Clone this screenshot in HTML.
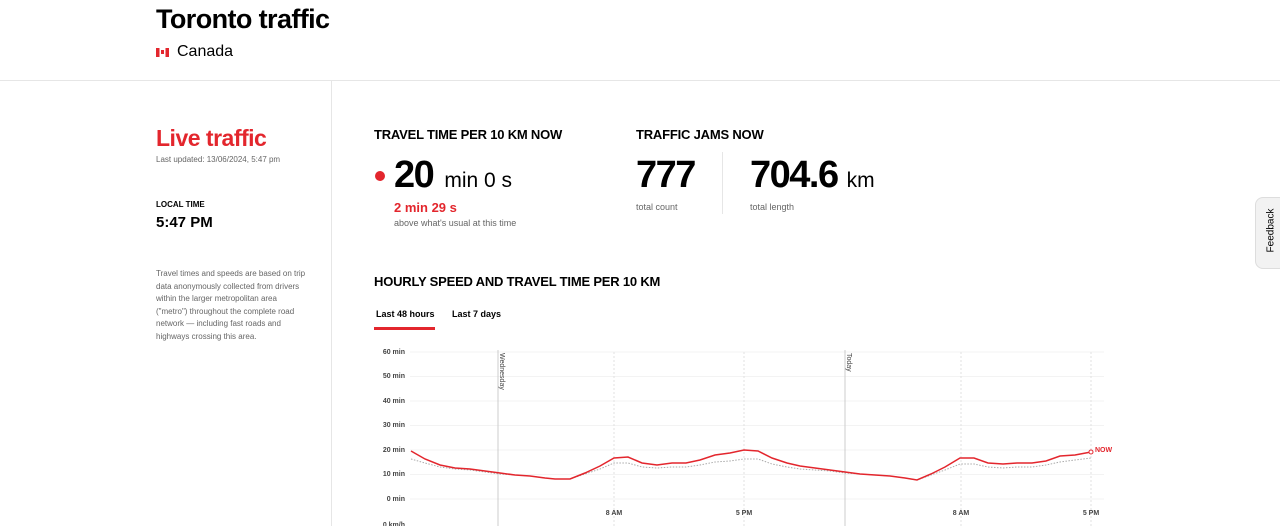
<!DOCTYPE html>
<html><head><meta charset="utf-8"><style>
body{margin:0;width:1280px;height:526px;overflow:hidden;background:#fff;font-family:"Liberation Sans",sans-serif;color:#000;position:relative}
.a{position:absolute;white-space:nowrap}
</style></head><body>
<div class="a" style="left:156px;top:4px;font-size:27px;font-weight:bold;letter-spacing:-0.6px">Toronto traffic</div>
<div class="a" style="left:156px;top:48px;width:13px;height:9px;background:linear-gradient(90deg,#e3262d 0 28%,#fff 28% 72%,#e3262d 72%)"></div>
<div class="a" style="left:161px;top:50px;width:3px;height:4px;background:#e3262d"></div>
<div class="a" style="left:177px;top:43px;font-size:16px">Canada</div>
<div class="a" style="left:0;top:80px;width:1280px;height:1px;background:#e6e6e6"></div>
<div class="a" style="left:331px;top:81px;width:1px;height:445px;background:#e6e6e6"></div>
<div class="a" style="left:156px;top:125px;font-size:23px;font-weight:bold;color:#e3262d;letter-spacing:-0.5px">Live traffic</div>
<div class="a" style="left:156px;top:155px;font-size:8px;color:#666">Last updated: 13/06/2024, 5:47 pm</div>
<div class="a" style="left:156px;top:200px;font-size:8px;font-weight:bold">LOCAL TIME</div>
<div class="a" style="left:156px;top:214px;font-size:15px;font-weight:bold">5:47 PM</div>
<div class="a" style="left:156px;top:268px;font-size:8px;color:#666;line-height:12.5px;white-space:normal;width:150px">Travel times and speeds are based on trip data anonymously collected from drivers within the larger metropolitan area ("metro") throughout the complete road network — including fast roads and highways crossing this area.</div>
<div class="a" style="left:374px;top:127px;font-size:13px;font-weight:bold;letter-spacing:-0.2px">TRAVEL TIME PER 10 KM NOW</div>
<div class="a" style="left:375px;top:171px;width:10px;height:10px;border-radius:50%;background:#e3262d"></div>
<div class="a" style="left:394px;top:154px;font-size:38px;font-weight:bold;letter-spacing:-1.5px">20 <span style="font-size:21px;font-weight:normal;letter-spacing:0;margin-left:2px">min 0 s</span></div>
<div class="a" style="left:394px;top:200px;font-size:13px;font-weight:bold;color:#e3262d">2 min 29 s</div>
<div class="a" style="left:394px;top:218px;font-size:9px;color:#666">above what's usual at this time</div>
<div class="a" style="left:636px;top:127px;font-size:13px;font-weight:bold;letter-spacing:-0.2px">TRAFFIC JAMS NOW</div>
<div class="a" style="left:636px;top:154px;font-size:38px;font-weight:bold;letter-spacing:-1.5px">777</div>
<div class="a" style="left:636px;top:202px;font-size:9px;color:#666">total count</div>
<div class="a" style="left:722px;top:152px;width:1px;height:62px;background:#e6e6e6"></div>
<div class="a" style="left:750px;top:154px;font-size:38px;font-weight:bold;letter-spacing:-1.5px">704.6 <span style="font-size:21px;font-weight:normal;letter-spacing:0">km</span></div>
<div class="a" style="left:750px;top:202px;font-size:9px;color:#666">total length</div>
<div class="a" style="left:1255px;top:197px;width:30px;height:70px;border-radius:8px;background:#f2f2f2;border:1px solid #ddd"></div>
<div class="a" style="left:1249px;top:225px;font-size:10px;transform:rotate(-90deg);transform-origin:center">Feedback</div>
<div class="a" style="left:374px;top:274px;font-size:13px;font-weight:bold;letter-spacing:-0.2px">HOURLY SPEED AND TRAVEL TIME PER 10 KM</div>
<div class="a" style="left:376px;top:309px;font-size:9px;font-weight:bold">Last 48 hours</div>
<div class="a" style="left:374px;top:327px;width:61px;height:3px;background:#e3262d"></div>
<div class="a" style="left:452px;top:309px;font-size:9px;font-weight:bold">Last 7 days</div>
<svg class="a" style="left:0;top:0" width="1280" height="526" font-family="Liberation Sans" font-size="7" font-weight="bold" fill="#444">
<g stroke="#f3f3f3"><line x1="410" x2="1104" y1="352" y2="352"/><line x1="410" x2="1104" y1="376.5" y2="376.5"/><line x1="410" x2="1104" y1="401" y2="401"/><line x1="410" x2="1104" y1="425.5" y2="425.5"/><line x1="410" x2="1104" y1="450" y2="450"/><line x1="410" x2="1104" y1="474.5" y2="474.5"/><line x1="410" x2="1104" y1="499" y2="499"/></g>
<g text-anchor="end"><text x="405" y="354">60 min</text><text x="405" y="378">50 min</text><text x="405" y="403">40 min</text><text x="405" y="427">30 min</text><text x="405" y="452">20 min</text><text x="405" y="476">10 min</text><text x="405" y="501">0 min</text><text x="405" y="527">0 km/h</text></g>
<g stroke="#e2e2e2" stroke-dasharray="2,2"><line x1="614" x2="614" y1="352" y2="526"/><line x1="744" x2="744" y1="352" y2="526"/><line x1="961" x2="961" y1="352" y2="526"/><line x1="1091" x2="1091" y1="352" y2="526"/></g>
<g stroke="#ccc"><line x1="498" x2="498" y1="350" y2="526"/><line x1="845" x2="845" y1="350" y2="526"/></g>
<text transform="translate(500,353) rotate(90)" font-weight="normal" font-size="7">Wednesday</text>
<text transform="translate(847,353) rotate(90)" font-weight="normal" font-size="7">Today</text>
<g text-anchor="middle"><text x="614" y="515">8 AM</text><text x="744" y="515">5 PM</text><text x="961" y="515">8 AM</text><text x="1091" y="515">5 PM</text></g>
<polyline fill="none" stroke="#aaa" stroke-dasharray="1.5,1.5" points="411,459 425,463 440,467 455,469 470,470 485,472 500,474 515,475 530,476 545,478 555,479 570,479 585,474 600,469 614,463 628,463 642,467 657,468 672,467 686,467 700,465 715,462 730,461 744,459 758,459 772,464 787,467 800,469 815,470 830,471 845,473 860,474 875,475 890,476 905,478 917,480 931,475 945,470 960,464 974,464 988,467 1003,468 1017,467 1032,467 1046,465 1060,462 1075,460 1091,458"/>
<polyline fill="none" stroke="#e3262d" stroke-width="1.5" points="411,451 425,459 440,465 455,468 470,469 485,471 500,473 515,475 530,476 545,478 555,479 570,479 585,473 600,466 614,458 628,457 642,463 657,465 672,463 686,463 700,460 715,455 730,453 744,450 758,451 772,458 787,463 800,466 815,468 830,470 845,472 860,474 875,475 890,476 905,478 917,480 931,474 945,467 960,458 974,458 988,463 1003,464 1017,463 1032,463 1046,461 1060,456 1075,455 1091,452"/>
<circle cx="1091" cy="452" r="2" fill="#fff" stroke="#e3262d"/>
<text x="1095" y="452" fill="#e3262d">NOW</text>
</svg>
</body></html>
